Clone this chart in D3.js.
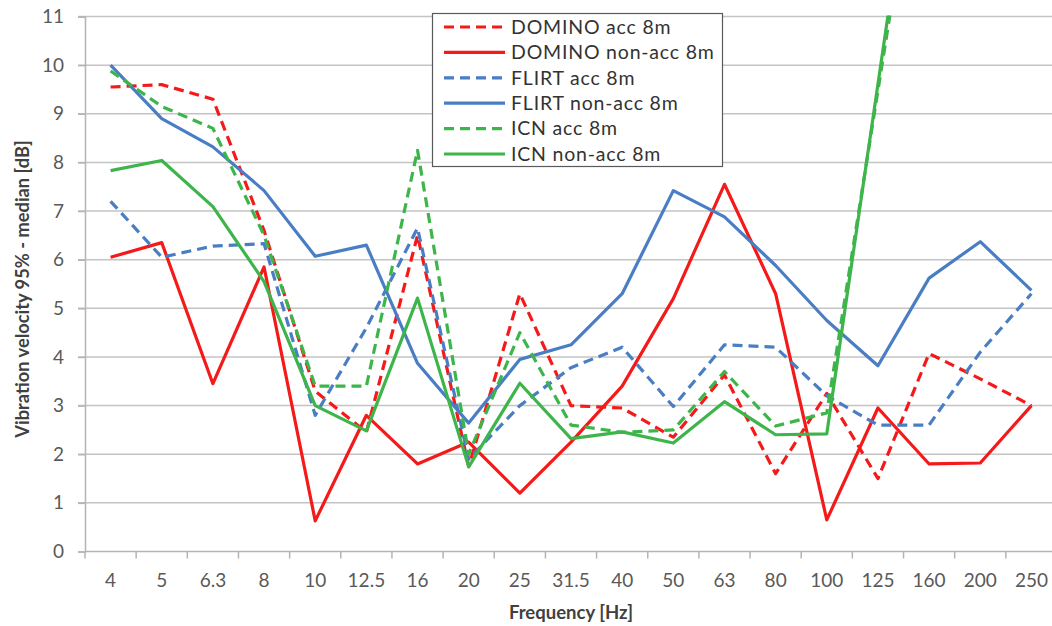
<!DOCTYPE html>
<html>
<head>
<meta charset="utf-8">
<script src="https://cdn.jsdelivr.net/npm/d3@7"></script>
<style>
  html, body { margin: 0; padding: 0; background: #fff; }
  svg { display: block; }
</style>
</head>
<body>
<script>
// ---- Data ----
const categories = ["4","5","6.3","8","10","12.5","16","20","25","31.5","40","50","63","80","100","125","160","200","250"];
const yTicks = [0,1,2,3,4,5,6,7,8,9,10,11];

const dominoAcc    = [9.55, 9.6, 9.3, 6.6, 3.3, 2.45, 6.5, 1.75, 5.3, 3.0, 2.95, 2.35, 3.63, 1.6, 3.25, 1.5, 4.07, 3.55, 3.0];
const dominoNonAcc = [6.05, 6.35, 3.45, 5.85, 0.63, 2.8, 1.8, 2.25, 1.2, 2.25, 3.4, 5.2, 7.55, 5.3, 0.65, 2.95, 1.8, 1.82, 3.0];
const flirtAcc     = [7.2, 6.05, 6.28, 6.33, 2.8, 4.6, 6.65, 1.9, 3.0, 3.78, 4.2, 2.98, 4.25, 4.2, 3.2, 2.6, 2.6, 4.1, 5.3];
const flirtNonAcc  = [10.0, 8.9, 8.32, 7.42, 6.07, 6.3, 3.87, 2.64, 3.95, 4.25, 5.3, 7.42, 6.88, 5.88, 4.75, 3.82, 5.62, 6.37, 5.37];
const icnAcc       = [9.88, 9.15, 8.7, 6.5, 3.4, 3.4, 8.25, 2.0, 4.5, 2.6, 2.45, 2.5, 3.7, 2.58, 2.85, null, 16.1, null, null];
const icnNonAcc    = [7.83, 8.04, 7.09, 5.55, 3.0, 2.48, 5.21, 1.74, 3.46, 2.32, 2.46, 2.23, 3.08, 2.4, 2.42, null, 16.8, null, null];

const seriesNames = ["DOMINO acc 8m","DOMINO non-acc 8m","FLIRT acc 8m","FLIRT non-acc 8m","ICN acc 8m","ICN non-acc 8m"];
const seriesValues = [dominoAcc, dominoNonAcc, flirtAcc, flirtNonAcc, icnAcc, icnNonAcc];
const seriesColors = ["#f41a1a","#f41a1a","#4a7ec4","#4a7ec4","#3db54b","#3db54b"];
const seriesDashed = [true,false,true,false,true,false];

// ---- Layout ----
const W = 1052, H = 626;
const plot = {left: 85, right: 1057, top: 16.5, bottom: 551.5};
const font = "Lato, 'Open Sans', sans-serif";

const svg = d3.select("body").append("svg").attr("width", W).attr("height", H);
svg.append("rect").attr("width", W).attr("height", H).attr("fill", "#fff");

const xBand = d3.scaleBand().domain(categories).range([plot.left, plot.right]).padding(0);
const x = c => xBand(c) + xBand.bandwidth() / 2;
const y = d3.scaleLinear().domain([0, 11]).range([plot.bottom, plot.top]);

// gridlines
svg.append("g").selectAll("line").data(yTicks.filter(t => t > 0)).join("line")
  .attr("x1", plot.left - 7).attr("x2", plot.right)
  .attr("y1", d => y(d)).attr("y2", d => y(d))
  .attr("stroke", "#c4c4c4").attr("stroke-width", 1.5);

// y axis
const yAxis = svg.append("g").attr("transform", `translate(${plot.left},0)`)
  .call(d3.axisLeft(y).tickValues(yTicks).tickSize(7).tickPadding(14).tickFormat(d3.format("d")));
yAxis.select(".domain").attr("stroke", "#b4b4b4").attr("stroke-width", 1.5);
yAxis.selectAll(".tick line").attr("stroke", "#b4b4b4").attr("stroke-width", 1.5);
yAxis.selectAll(".tick text").attr("font-family", font).attr("font-size", 19).attr("fill", "#595959");

// x axis (labels centred in bands)
const xAxis = svg.append("g").attr("transform", `translate(0,${plot.bottom})`)
  .call(d3.axisBottom(xBand).tickSize(0).tickPadding(22));
xAxis.select(".domain").remove();
xAxis.selectAll(".tick text").attr("font-family", font).attr("font-size", 19).attr("fill", "#595959");
// x axis line and boundary ticks
svg.append("line").attr("x1", plot.left).attr("x2", plot.right)
  .attr("y1", plot.bottom).attr("y2", plot.bottom)
  .attr("stroke", "#b4b4b4").attr("stroke-width", 1.5);
svg.append("g").selectAll("line").data(categories).join("line")
  .attr("x1", d => xBand(d)).attr("x2", d => xBand(d))
  .attr("y1", plot.bottom).attr("y2", plot.bottom + 7)
  .attr("stroke", "#b4b4b4").attr("stroke-width", 1.5);

// axis titles
svg.append("text").attr("x", 571).attr("y", 619).attr("text-anchor", "middle")
  .attr("font-family", font).attr("font-weight", "bold").attr("font-size", 18.5).attr("fill", "#404040")
  .text("Frequency [Hz]");
svg.append("text").attr("transform", "translate(29,289) rotate(-90)").attr("text-anchor", "middle")
  .attr("font-family", font).attr("font-weight", "bold").attr("font-size", 18.3).attr("fill", "#404040")
  .text("Vibration velocity 95% - median [dB]");

// clip for lines
svg.append("clipPath").attr("id", "plotclip").append("rect")
  .attr("x", plot.left).attr("y", plot.top - 1)
  .attr("width", plot.right - plot.left).attr("height", plot.bottom - plot.top + 1);

const line = d3.line().x(d => x(d.c)).y(d => y(d.v));
const gLines = svg.append("g").attr("clip-path", "url(#plotclip)");
seriesValues.forEach((vals, i) => {
  const pts = categories.map((c, j) => ({c, v: vals[j]})).filter(d => d.v !== null);
  gLines.append("path").datum(pts)
    .attr("d", line).attr("fill", "none")
    .attr("stroke", seriesColors[i]).attr("stroke-width", 3.2)
    .attr("stroke-linejoin", "round")
    .attr("stroke-dasharray", seriesDashed[i] ? "10,6" : null);
});

// legend
const lg = svg.append("g");
lg.append("rect").attr("x", 432.5).attr("y", 13.5).attr("width", 290).attr("height", 153)
  .attr("fill", "#fff").attr("stroke", "#595959").attr("stroke-width", 1.2);
seriesNames.forEach((name, i) => {
  const yy = 27 + i * 25.4;
  lg.append("line").attr("x1", 444).attr("x2", 505).attr("y1", yy).attr("y2", yy)
    .attr("stroke", seriesColors[i]).attr("stroke-width", 3.2)
    .attr("stroke-dasharray", seriesDashed[i] ? "10,6" : null);
  lg.append("text").attr("x", 511).attr("y", yy).attr("dy", "0.35em")
    .attr("font-family", font).attr("font-size", 19.5).attr("letter-spacing", 0.8).attr("fill", "#333")
    .text(name);
});
</script>
</body>
</html>
